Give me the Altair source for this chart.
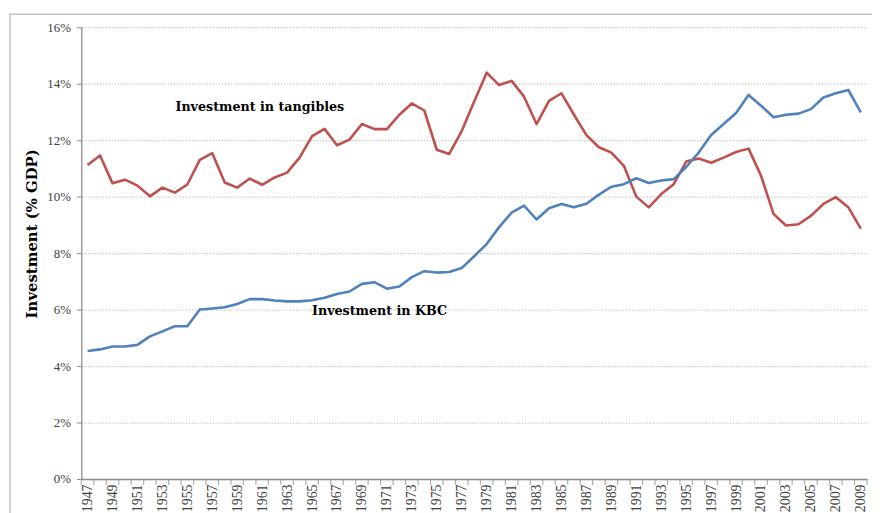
import altair as alt
import pandas as pd

years = list(range(1947, 2010))

tangibles = [11.12, 11.46, 10.47, 10.60, 10.39, 10.01, 10.32, 10.14, 10.43, 11.30,
             11.54, 10.50, 10.32, 10.64, 10.42, 10.68, 10.85, 11.38, 12.14, 12.40,
             11.82, 12.02, 12.57, 12.39, 12.39, 12.90, 13.30, 13.05, 11.66, 11.51,
             12.32, 13.37, 14.39, 13.95, 14.10, 13.54, 12.57, 13.39, 13.66, 12.90,
             12.18, 11.75, 11.56, 11.09, 10.00, 9.62, 10.09, 10.44, 11.24, 11.35,
             11.20, 11.38, 11.58, 11.70, 10.74, 9.39, 8.98, 9.02, 9.32, 9.74,
             9.98, 9.62, 8.87]

kbc = [4.53, 4.59, 4.69, 4.69, 4.75, 5.05, 5.23, 5.41, 5.41, 6.00,
       6.04, 6.08, 6.20, 6.37, 6.37, 6.32, 6.29, 6.29, 6.33, 6.42,
       6.55, 6.64, 6.91, 6.97, 6.74, 6.82, 7.15, 7.36, 7.31, 7.33,
       7.47, 7.89, 8.32, 8.92, 9.43, 9.68, 9.19, 9.59, 9.74, 9.62,
       9.75, 10.07, 10.35, 10.44, 10.65, 10.48, 10.57, 10.62, 11.05, 11.56,
       12.18, 12.57, 12.96, 13.60, 13.22, 12.81, 12.90, 12.94, 13.10, 13.51,
       13.66, 13.78, 12.98]

label_text = ["Investment in tangibles", "Investment in KBC"]
label_year = [1954.05, 1965.0]
label_value = [13.19, 5.96]

rows = []
for y, t, k in zip(years, tangibles, kbc):
    rows.append({"year": y, "series": "tangibles", "value": t / 100})
    rows.append({"year": y, "series": "KBC", "value": k / 100})
df = pd.DataFrame(rows)

labels_df = pd.DataFrame({"text": label_text, "year": label_year,
                          "value": [v / 100 for v in label_value]})

SERIF = "Liberation Serif"
BOLD_SERIF = "DejaVu Serif"
xscale = alt.Scale(domain=[1946.5, 2009.5], nice=False, zero=False)
yscale = alt.Scale(domain=[0, 0.16], nice=False)

xaxis = alt.Axis(values=[y for y in years if y % 2 == 1], format="d",
                 labelAngle=-90, labelFont=SERIF, labelFontSize=14,
                 labelColor="#404040", ticks=False, grid=False,
                 domainColor="#8c8c8c", domainWidth=1.3,
                 labelPadding=5, title=None, labelOverlap=False,
                 labelBound=False, labelFlush=False)

lines = alt.Chart(df).mark_line(strokeWidth=2.6, strokeJoin="round").encode(
    x=alt.X("year:Q", scale=xscale, axis=xaxis),
    y=alt.Y("value:Q", scale=yscale,
            axis=alt.Axis(values=[i / 100 for i in range(0, 17, 2)], format=".0%",
                          labelFont=SERIF, labelFontSize=13, labelColor="#404040",
                          tickColor="#8c8c8c", tickSize=5, domainColor="#8c8c8c",
                          domainWidth=1.3, gridColor="#cccccc", gridDash=[1.5, 1.5],
                          gridWidth=1.3, labelPadding=6,
                          title="Investment (% GDP)", titleFont=BOLD_SERIF,
                          titleFontSize=15, titleFontWeight="bold",
                          titleColor="#000000", titleY=208, titleX=-50,
                          titleBaseline="middle")),
    color=alt.Color("series:N",
                    scale=alt.Scale(domain=["tangibles", "KBC"],
                                    range=["#C0504D", "#4F81BD"]),
                    legend=None),
)

ticks_df = pd.DataFrame({"year": [y - 0.5 for y in years] + [2009.5]})
xticks = alt.Chart(ticks_df).mark_tick(color="#8c8c8c", thickness=1.2, size=6).encode(
    x=alt.X("year:Q", scale=xscale, axis=xaxis),
    y=alt.value(456 + 3),
)

texts = alt.Chart(labels_df).mark_text(
    font=BOLD_SERIF, fontSize=12.8, fontWeight="bold", align="left",
    baseline="middle", color="#000000"
).encode(
    x=alt.X("year:Q", scale=xscale, axis=xaxis),
    y=alt.Y("value:Q", scale=yscale),
    text="text:N",
)

frame = alt.Chart(pd.DataFrame({"a": [0]})).mark_rect(
    fill=None, stroke="#c4c4c4", strokeWidth=1.5
).encode(
    x=alt.value(-72), x2=alt.value(830), y=alt.value(-13), y2=alt.value(540)
)

chart = alt.layer(frame, lines, xticks, texts).properties(
    width=793, height=456,
    autosize=alt.AutoSizeParams(type="none"),
    padding={"left": 74, "top": 17, "right": 5, "bottom": 40},
).configure_view(stroke=None)

chart.save("out.html", embed_options={"renderer": "svg", "actions": False})
